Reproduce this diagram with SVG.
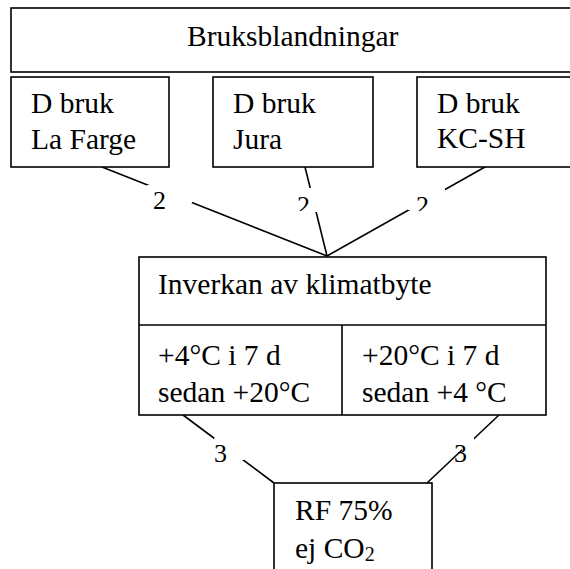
<svg xmlns="http://www.w3.org/2000/svg" width="570" height="569" viewBox="0 0 570 569">
<defs>
<style>
.box{fill:#fff;stroke:#000;stroke-width:1.6}
.t{font-family:"Liberation Serif","Times New Roman",serif;font-size:29.5px;fill:#000}
.lbl{font-family:"Liberation Serif","Times New Roman",serif;font-size:26px;fill:#000}
.c{stroke:#000;stroke-width:1.6;fill:none}
.mask{fill:#fff;stroke:none}
</style>
<clipPath id="clipM"><rect x="290" y="185" width="30" height="26"/></clipPath>
<clipPath id="clipR"><rect x="405" y="185" width="40" height="26"/></clipPath>
</defs>
<rect width="570" height="569" fill="#fff"/>
<g id="connectors">
<line class="c" x1="102" y1="167" x2="327" y2="256"/>
<line class="c" x1="305" y1="167" x2="327" y2="256"/>
<line class="c" x1="485" y1="167" x2="327" y2="256"/>
<line class="c" x1="183" y1="415" x2="274" y2="483"/>
<line class="c" x1="499" y1="415" x2="427" y2="483"/>
</g>
<g id="labels">
<g id="label-L2"><rect class="mask" x="147" y="185" width="45" height="18"/><text class="lbl" x="153" y="209">2</text></g>
<g id="label-M2"><rect class="mask" x="295" y="188" width="22" height="24"/><text class="lbl" x="297" y="214" clip-path="url(#clipM)">2</text></g>
<g id="label-R2"><rect class="mask" x="408" y="189" width="37" height="21"/><text class="lbl" x="416" y="214" clip-path="url(#clipR)">2</text></g>
<g id="label-L3"><rect class="mask" x="214" y="438" width="30" height="22"/><text class="lbl" x="214" y="462">3</text></g>
<g id="label-R3"><rect class="mask" x="462" y="438" width="12" height="13"/><text class="lbl" x="454" y="462">3</text></g>
</g>
<g id="bruksblandningar">
<rect class="box" x="11" y="8" width="580" height="64"/>
<text class="t" x="187" y="46">Bruksblandningar</text>
</g>
<g id="lafarge">
<rect class="box" x="11" y="77" width="158" height="90"/>
<text class="t" x="31" y="113">D bruk</text>
<text class="t" x="31" y="149">La Farge</text>
</g>
<g id="jura">
<rect class="box" x="213" y="77" width="160" height="90"/>
<text class="t" x="233" y="113">D bruk</text>
<text class="t" x="233" y="149">Jura</text>
</g>
<g id="kcsh">
<rect class="box" x="417" y="77" width="170" height="90"/>
<text class="t" x="437" y="113">D bruk</text>
<text class="t" x="437" y="148">KC-SH</text>
</g>
<g id="klimatbyte">
<rect class="box" x="139" y="257" width="407" height="158"/>
<line class="c" x1="139" y1="325" x2="546" y2="325"/>
<line class="c" x1="342" y1="325" x2="342" y2="415"/>
<text class="t" x="158" y="294">Inverkan av klimatbyte</text>
<text class="t" x="158" y="365">+4°C i 7 d</text>
<text class="t" x="158" y="402">sedan +20°C</text>
<text class="t" x="362" y="365">+20°C i 7 d</text>
<text class="t" x="362" y="402">sedan +4 °C</text>
</g>
<g id="rf">
<rect class="box" x="274" y="483" width="158" height="100"/>
<text class="t" x="295" y="520">RF 75%</text>
<text class="t" x="295" y="558">ej CO<tspan font-size="20" dy="3">2</tspan></text>
</g>
</svg>
